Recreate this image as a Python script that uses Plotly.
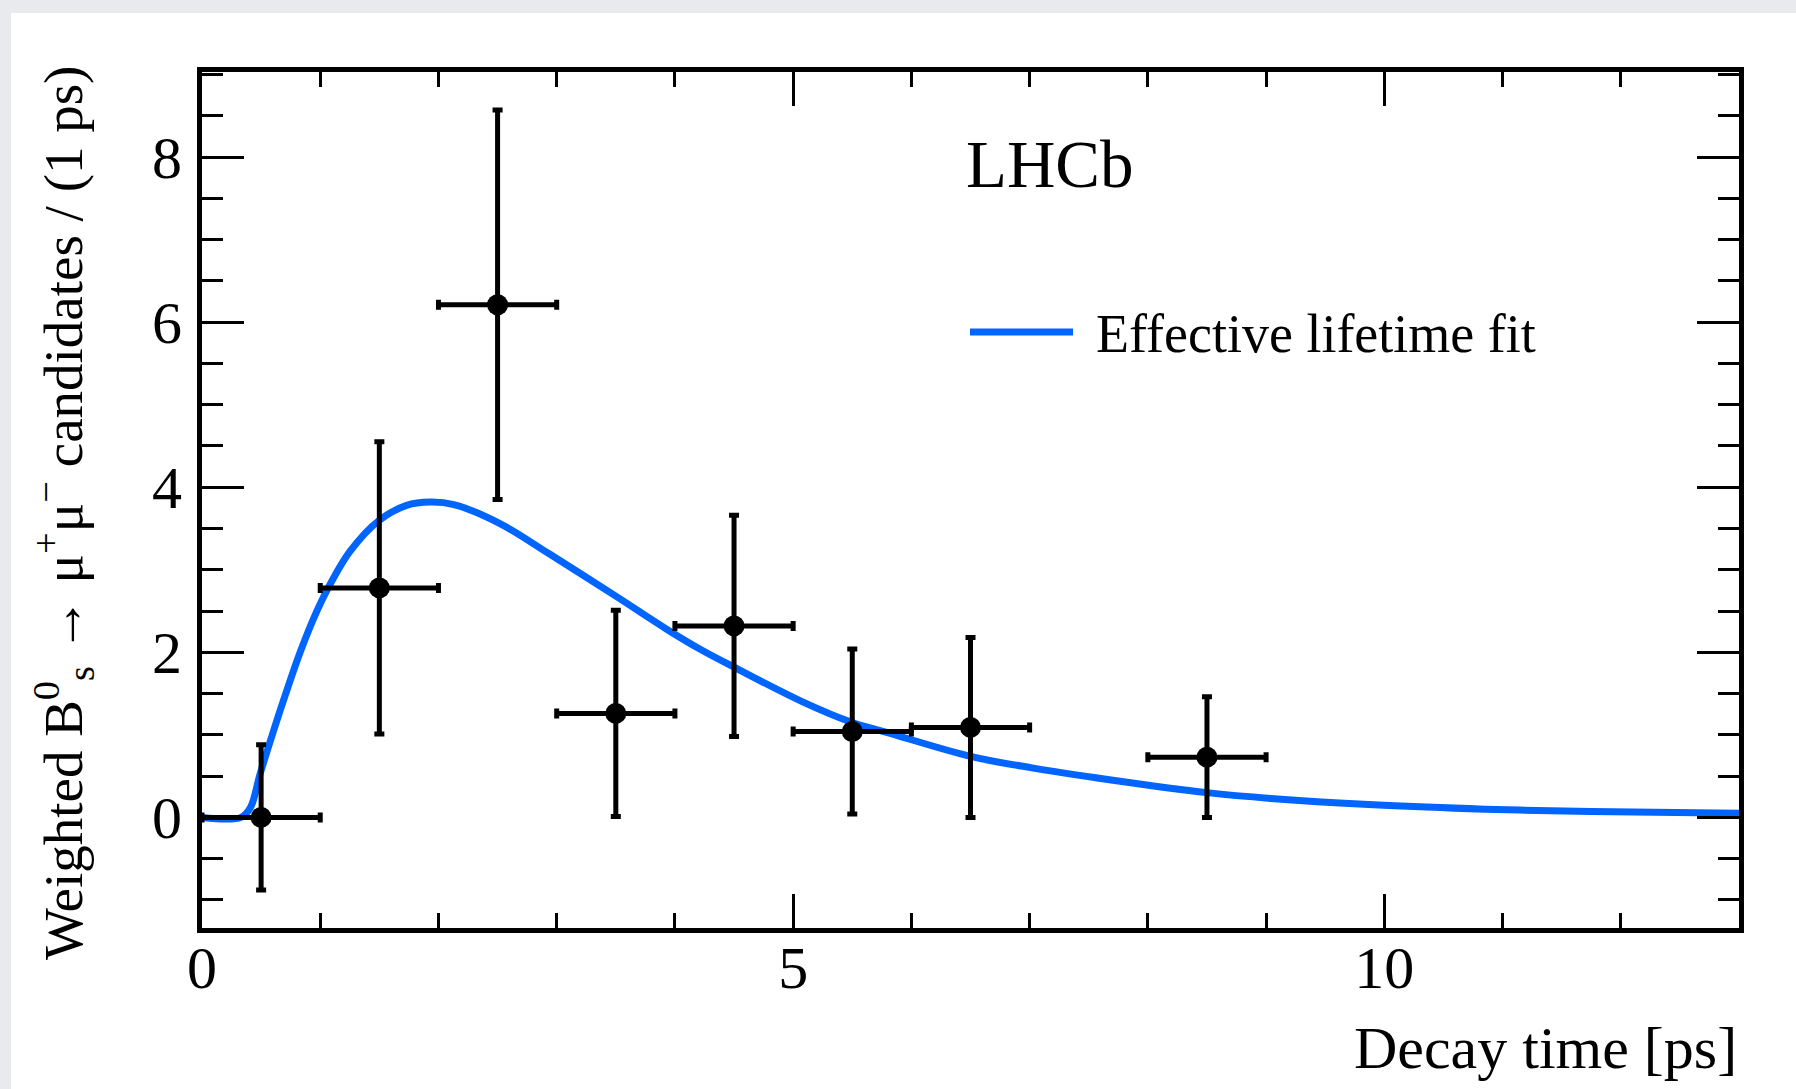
import plotly.graph_objects as go

# Binned decay-time data (bin centres, weighted yields, uncertainties)
decay_time = [0.5, 1.5, 2.5, 3.5, 4.5, 5.5, 6.5, 8.5]
weighted_yield = [0.0, 2.78, 6.21, 1.26, 2.32, 1.04, 1.09, 0.73]
yield_err = [0.88, 1.77, 2.36, 1.25, 1.34, 1.00, 1.09, 0.73]
bin_half_width = 0.5

# Effective lifetime fit curve
fit_t = [0.0, 0.33, 0.41, 0.49, 0.59, 0.69, 0.83, 0.95, 1.06, 1.25, 1.5,
         1.73, 1.93, 2.13, 2.52, 2.94, 3.5, 3.93, 4.21, 4.5, 5.08, 5.5,
         5.79, 6.5, 7.02, 7.66, 8.5, 9.04, 9.95, 10.85, 11.75, 13.0]
fit_y = [0.0, 0.0, 0.12, 0.52, 0.98, 1.42, 2.0, 2.43, 2.76, 3.22, 3.6,
         3.78, 3.82, 3.79, 3.56, 3.19, 2.68, 2.28, 2.04, 1.82, 1.40, 1.15,
         1.03, 0.74, 0.60, 0.46, 0.30, 0.23, 0.15, 0.10, 0.07, 0.05]

x_tickvals = [0, 5, 10]
y_tickvals = [0, 2, 4, 6, 8]

FONT = "Liberation Serif, Times New Roman, serif"
BLUE = "#0064ff"
W, H = 1796, 1089
ML, MR, MT, MB = 202, 57, 72, 161
PW, PH = W - ML - MR, H - MT - MB


def px(xp):
    return (xp - ML) / PW


def py(yp):
    return (H - MB - yp) / PH


fig = go.Figure()

fig.add_trace(go.Scatter(
    x=fit_t, y=fit_y, mode="lines",
    line=dict(color=BLUE, width=7, shape="spline", smoothing=1.0),
    name="Effective lifetime fit", showlegend=False, hoverinfo="skip",
))

fig.add_trace(go.Scatter(
    x=decay_time, y=weighted_yield, mode="markers",
    marker=dict(color="black", size=21),
    error_y=dict(type="data", array=yield_err, symmetric=True,
                 color="black", thickness=5, width=5),
    error_x=dict(type="constant", value=bin_half_width,
                 color="black", thickness=5, width=5),
    showlegend=False,
))

axis_common = dict(
    showline=True, linecolor="black", linewidth=5, mirror="ticks",
    ticks="inside", tickcolor="black", tickwidth=3,
    showgrid=False, zeroline=False,
    tickfont=dict(family=FONT, size=60, color="black"),
)

fig.update_xaxes(
    range=[0, 13], tickvals=x_tickvals, ticklen=34,
    minor=dict(dtick=1, tick0=0, ticklen=15, ticks="inside",
               tickcolor="black", tickwidth=3, showgrid=False),
    ticklabelstandoff=-17,
    **axis_common,
)
fig.update_yaxes(
    range=[-1.34, 9.03], tickvals=y_tickvals, ticklen=42,
    minor=dict(dtick=0.5, tick0=0, ticklen=21, ticks="inside",
               tickcolor="black", tickwidth=3, showgrid=False),
    ticklabelstandoff=3,
    **axis_common,
)

# White panel on the grey page
shapes = [dict(type="rect", xref="paper", yref="paper", layer="below",
               x0=px(11), x1=px(W + 5), y0=py(H + 5), y1=py(13),
               fillcolor="white", line=dict(width=0))]
# Legend sample line
shapes.append(dict(type="line", xref="paper", yref="paper",
                   x0=px(970), x1=px(1073), y0=py(332), y1=py(332),
                   line=dict(color=BLUE, width=7)))

annotations = [
    dict(text="LHCb", xref="paper", yref="paper", x=px(1050), y=py(164),
         xanchor="center", yanchor="middle", showarrow=False,
         font=dict(family=FONT, size=67, color="black")),
    dict(text="Effective lifetime fit", xref="paper", yref="paper",
         x=px(1094), y=py(334), xanchor="left", yanchor="middle",
         showarrow=False, font=dict(family=FONT, size=54, color="black")),
    dict(text="Decay time [ps]", xref="paper", yref="paper",
         x=1.0, y=py(1048), xanchor="right", yanchor="middle",
         showarrow=False, font=dict(family=FONT, size=60, color="black")),
    dict(text="Weighted B<sup>0</sup><sub>s</sub> \u2192 \u03bc<sup>+</sup>\u03bc<sup>\u2212</sup> candidates / (1 ps)",
         xref="paper", yref="paper", x=px(63), y=py(64),
         xanchor="center", yanchor="top", textangle=-90, showarrow=False,
         font=dict(family=FONT, size=55, color="black")),
]

fig.update_layout(
    width=W, height=H,
    margin=dict(l=ML, r=MR, t=MT, b=MB),
    paper_bgcolor="#e9eaee", plot_bgcolor="white",
    shapes=shapes, annotations=annotations,
    showlegend=False,
)

fig.write_html("out.html")
